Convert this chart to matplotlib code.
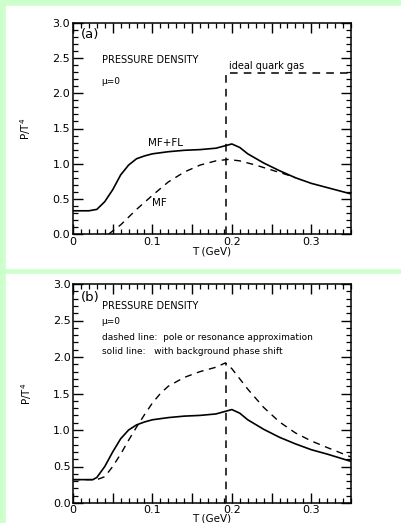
import matplotlib.pyplot as plt
from matplotlib.patches import Rectangle
from matplotlib.ticker import MultipleLocator

# panel (a)
t_mffl = [0.0, 0.02, 0.03, 0.04, 0.05, 0.06, 0.07, 0.08, 0.09, 0.10, 0.12, 0.14,
          0.16, 0.18, 0.19, 0.20, 0.21, 0.22, 0.24, 0.26, 0.28, 0.30, 0.32, 0.35]
p_mffl = [0.33, 0.33, 0.35, 0.46, 0.63, 0.84, 0.98, 1.07, 1.11, 1.14, 1.17, 1.19,
          1.20, 1.22, 1.25, 1.28, 1.23, 1.14, 1.01, 0.90, 0.80, 0.72, 0.66, 0.57]
t_mf = [0.045, 0.06, 0.08, 0.10, 0.12, 0.14, 0.16, 0.18, 0.195, 0.21, 0.23,
        0.25, 0.27, 0.28]
p_mf = [0.0, 0.13, 0.35, 0.55, 0.74, 0.88, 0.98, 1.04, 1.06, 1.04, 0.98,
        0.91, 0.84, 0.80]
t_c = 0.192
p_quark = 2.29

# panel (b)
t_bg = [0.0, 0.025, 0.03, 0.04, 0.05, 0.06, 0.07, 0.08, 0.09, 0.10, 0.12, 0.14,
        0.16, 0.18, 0.19, 0.20, 0.21, 0.22, 0.24, 0.26, 0.28, 0.30, 0.32, 0.35]
p_bg = [0.32, 0.32, 0.35, 0.50, 0.70, 0.88, 1.00, 1.07, 1.11, 1.14, 1.17, 1.19,
        1.20, 1.22, 1.25, 1.28, 1.23, 1.14, 1.01, 0.90, 0.81, 0.73, 0.67, 0.57]
t_pole = [0.0, 0.03, 0.04, 0.05, 0.06, 0.07, 0.08, 0.09, 0.10, 0.11, 0.12, 0.14,
          0.16, 0.18, 0.192, 0.20, 0.21, 0.22, 0.24, 0.26, 0.28, 0.30, 0.32, 0.35]
p_pole = [0.32, 0.32, 0.36, 0.50, 0.67, 0.86, 1.04, 1.21, 1.37, 1.50, 1.60, 1.72,
          1.80, 1.86, 1.92, 1.84, 1.70, 1.56, 1.31, 1.11, 0.96, 0.85, 0.76, 0.63]

xticks = [0, 0.05, 0.1, 0.15, 0.2, 0.25, 0.3]
xlabels = ['0', '', '0.1', '', '0.2', '', '0.3']
yticks = [0.0, 0.5, 1.0, 1.5, 2.0, 2.5, 3.0]
ylabels = ['0.0', '0.5', '1.0', '1.5', '2.0', '2.5', '3.0']

dash = (0, (5, 4))
fs = 7.5

fig = plt.figure(figsize=(4.02, 5.23), dpi=100)
fig.patch.set_facecolor('#ccffcc')
fig.patches.append(Rectangle((6 / 402, 1 - 268 / 523), 396 / 402, 262 / 523,
                             transform=fig.transFigure, color='white', zorder=-5))
fig.patches.append(Rectangle((6 / 402, 0), 396 / 402, 1 - 274 / 523,
                             transform=fig.transFigure, color='white', zorder=-5))


def style_axes(ax):
    ax.set_xlim(0, 0.35)
    ax.set_ylim(0, 3.0)
    ax.set_xticks(xticks)
    ax.set_xticklabels(xlabels)
    ax.set_yticks(yticks)
    ax.set_yticklabels(ylabels)
    ax.xaxis.set_minor_locator(MultipleLocator(0.01))
    ax.yaxis.set_minor_locator(MultipleLocator(0.1))
    ax.tick_params(which='both', direction='in', top=True, right=True,
                   labelsize=fs + 0.5)
    ax.tick_params(which='major', length=7, width=1.0, pad=2)
    ax.tick_params(which='minor', length=3.5, width=0.9)
    ax.set_xlabel('T (GeV)', fontsize=fs, labelpad=0)
    ax.set_ylabel('P/T$^4$', fontsize=fs, labelpad=14)
    for s in ax.spines.values():
        s.set_linewidth(1.1)
    ax.set_facecolor('none')


ax1 = fig.add_axes([73 / 402, 1 - 234 / 523, 278 / 402, 211 / 523])
style_axes(ax1)
ax1.plot(t_mffl, p_mffl, color='black', lw=1.2)
ax1.plot(t_mf, p_mf, color='black', lw=1.0, linestyle=dash)
ax1.plot([t_c, t_c, 0.35], [0, p_quark, p_quark], color='black', lw=1.1,
         linestyle=dash)
ax1.text(0.01, 2.84, '(a)', fontsize=fs + 2, va='center')
ax1.text(0.036, 2.48, 'PRESSURE DENSITY', fontsize=fs - 0.5, va='center')
ax1.text(0.036, 2.17, '\u03bc=0', fontsize=fs - 1, va='center')
ax1.text(0.197, 2.39, 'ideal quark gas', fontsize=fs - 0.5, va='center')
ax1.text(0.095, 1.29, 'MF+FL', fontsize=fs, va='center')
ax1.text(0.1, 0.44, 'MF', fontsize=fs, va='center')

ax2 = fig.add_axes([73 / 402, 1 - 503 / 523, 278 / 402, 219 / 523])
style_axes(ax2)
ax2.tick_params(which='major', pad=1.5)
ax2.xaxis.labelpad = -1
ax2.plot(t_bg, p_bg, color='black', lw=1.2)
ax2.plot(t_pole, p_pole, color='black', lw=1.0, linestyle=dash)
ax2.plot([t_c, t_c], [0, max(p_pole)], color='black', lw=1.1, linestyle=dash)
ax2.text(0.01, 2.81, '(b)', fontsize=fs + 2, va='center')
ax2.text(0.036, 2.70, 'PRESSURE DENSITY', fontsize=fs - 0.5, va='center')
ax2.text(0.036, 2.48, '\u03bc=0', fontsize=fs - 1, va='center')
ax2.text(0.036, 2.27, 'dashed line:  pole or resonance approximation',
         fontsize=fs - 1, va='center')
ax2.text(0.036, 2.07, 'solid line:   with background phase shift',
         fontsize=fs - 1, va='center')

fig.savefig('out.png', dpi=100, facecolor=fig.get_facecolor())
